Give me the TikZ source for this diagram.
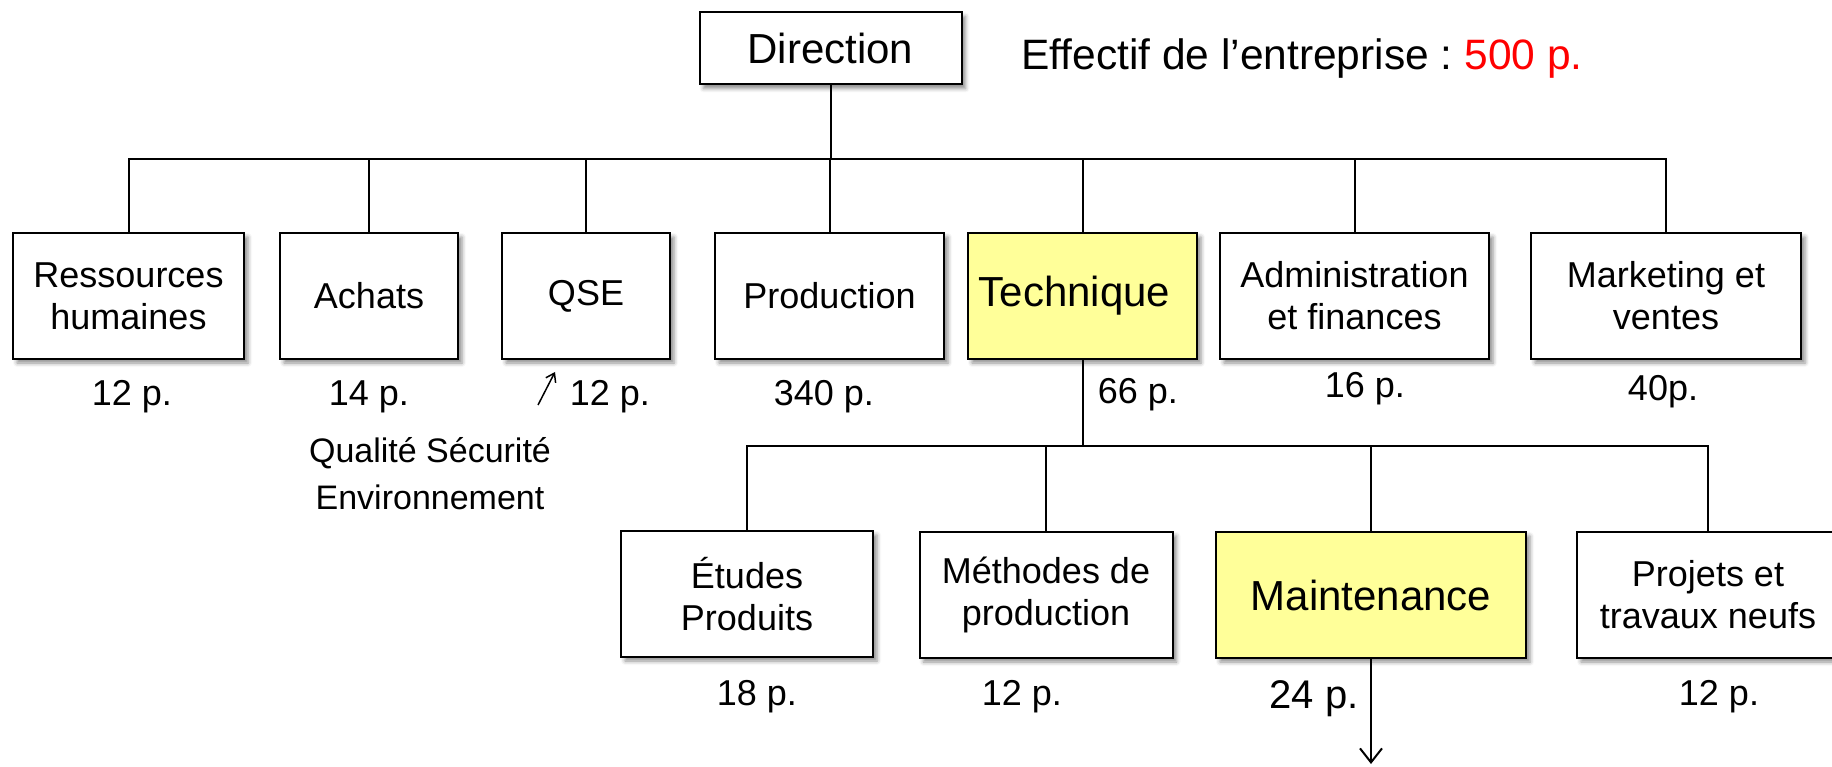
\documentclass[tikz,border=0pt]{standalone}
\usepackage{fontspec}
\setmainfont{Liberation Sans}
\usetikzlibrary{arrows.meta,shadows.blur}
\definecolor{hlyellow}{HTML}{FFFF99}
\newcommand{\fsmall}{\fontsize{36}{42}\selectfont}
\newcommand{\fbig}{\fontsize{42}{50}\selectfont}
\frenchspacing
\begin{document}
\frenchspacing
\begin{tikzpicture}[x=1pt,y=-1pt,
  box/.style={draw=black, line width=2pt, fill=white, inner sep=0pt, align=center, font=\fsmall,
    blur shadow={shadow xshift=4pt, shadow yshift=-4pt, shadow blur radius=4pt, shadow opacity=45}},
  hlbox/.style={box, fill=hlyellow, font=\fbig},
  conn/.style={line width=2pt},
  lab/.style={inner sep=0pt, font=\fsmall, anchor=base},
]
\useasboundingbox (0,0) rectangle (1832,767);

% top
\node[box, font=\fbig, minimum width=262pt, minimum height=72pt] (dir) at (830.5,48.5) {Direction};
\node[inner sep=0pt, anchor=base west, font=\fontsize{42.5}{50}\selectfont] (eff) at (1021,70) {Effectif de l’entreprise : \textcolor{red}{500 p.}};

% first level
\node[box, minimum width=231pt, minimum height=126pt] (rh) at (128.5,296) {Ressources\\humaines};
\node[box, minimum width=178pt, minimum height=126pt] (ach) at (369,296) {Achats};
\node[box, minimum width=168pt, minimum height=126pt] (qse) at (586,296) {QSE};
\node[box, minimum width=229pt, minimum height=126pt] (prod) at (829.5,296) {Production};
\node[hlbox, minimum width=229pt, minimum height=126pt] (tech) at (1082.5,296) {Technique\hspace{16pt}};
\node[box, minimum width=269pt, minimum height=126pt] (adm) at (1354.5,296) {Administration\\et finances};
\node[box, minimum width=270pt, minimum height=126pt] (mk) at (1666,296) {Marketing et\\ventes};

% second level
\node[box, minimum width=252pt, minimum height=126pt] (et) at (747,594) {Études\\Produits};
\node[box, minimum width=253pt, minimum height=126pt] (meth) at (1046,595) {Méthodes de\\production};
\node[hlbox, minimum width=310pt, minimum height=126pt] (mt) at (1371,595) {Maintenance};
\node[box, minimum width=262pt, minimum height=126pt] (pj) at (1708,595) {Projets et\\travaux neufs};

% labels
\node[lab] (lrh) at (132,405) {12 p.};
\node[lab] (lach) at (369,405) {14 p.};
\node[lab] (lqse) at (610,405) {12 p.};
\node[lab] (lprod) at (824,405) {340 p.};
\node[lab] (ltech) at (1138,403) {66 p.};
\node[lab] (ladm) at (1365,397) {16 p.};
\node[lab] (lmk) at (1663,400) {40p.};
\node[inner sep=0pt, font=\fontsize{34}{47}\selectfont, align=center] (lqual) at (430,474) {Qualité Sécurité\\Environnement};
\node[lab] (let) at (757,705) {18 p.};
\node[lab] (lmeth) at (1022,705) {12 p.};
\node[lab, font=\fontsize{40}{48}\selectfont] (lmt) at (1314,708) {24 p.};
\node[lab] (lpj) at (1719,705) {12 p.};

% connectors
\coordinate (bus1) at (0,159);
\coordinate (bus2) at (0,446);
\draw[conn] (dir.south) -- (dir.south |- bus1);
\draw[conn] (rh.north) -- (rh.north |- bus1) -| (mk.north);
\foreach \n in {ach,qse,prod,tech,adm}{
  \draw[conn] (\n.north) -- (\n.north |- bus1);
}
\draw[conn] (tech.south) -- (tech.south |- bus2);
\draw[conn] (et.north) -- (et.north |- bus2) -| (pj.north);
\draw[conn] (meth.north) -- (meth.north |- bus2);
\draw[conn] (mt.north) -- (mt.north |- bus2);

\coordinate (mtend) at (1371,764);
\draw[conn, -{Straight Barb[length=14pt,width=22pt]}] (mt.south) -- (mtend);

\coordinate (qa1) at (538,405);
\coordinate (qa2) at (555,372);
\draw[line width=1.5pt, -{Straight Barb[length=8pt,width=11pt]}] (qa1) -- (qa2);
\end{tikzpicture}
\end{document}
